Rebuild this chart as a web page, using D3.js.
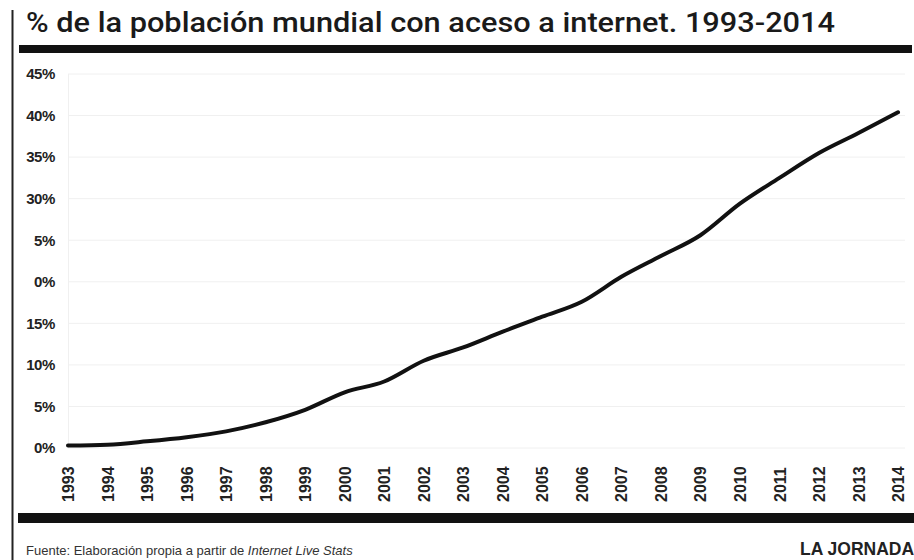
<!DOCTYPE html>
<html>
<head>
<meta charset="utf-8">
<script src="https://cdn.jsdelivr.net/npm/d3@7"></script>
<style>
  body { margin: 0; background: #fff; }
  svg { display: block; font-family: "Liberation Sans", Arial, sans-serif; }
  .grid line { stroke: #f0f0f0; stroke-width: 1; }
  .line { fill: none; stroke: #111; stroke-width: 4; stroke-linejoin: round; stroke-linecap: round; }
</style>
</head>
<body>
<div id="chart"></div>
<script>
// data: % of world population with internet access
var years = [1993, 1994, 1995, 1996, 1997, 1998, 1999, 2000, 2001, 2002, 2003,
             2004, 2005, 2006, 2007, 2008, 2009, 2010, 2011, 2012, 2013, 2014];
var pct = [0.3, 0.4, 0.8, 1.3, 2.0, 3.1, 4.6, 6.7, 8.0, 10.5, 12.1,
           14.0, 15.8, 17.6, 20.6, 23.1, 25.6, 29.4, 32.5, 35.5, 37.9, 40.4];
var yTicks = [0, 5, 10, 15, 20, 25, 30, 35, 40, 45];
// tick labels as printed in the original (with its typos)
var yTickLabels = ["0%", "5%", "10%", "15%", "0%", "5%", "30%", "35%", "40%", "45%"];

var width = 914, height = 560;

var svg = d3.select("#chart").append("svg")
    .attr("width", width)
    .attr("height", height);

var x = d3.scaleLinear().domain([1993, 2014]).range([68, 898]);
var y = d3.scaleLinear().domain([0, 45]).range([448, 74]);

// frame bits
svg.append("line")
    .attr("x1", 12.5).attr("x2", 12.5)
    .attr("y1", 10).attr("y2", height)
    .attr("stroke", "#222").attr("stroke-width", 2);

svg.append("rect")
    .attr("x", 19).attr("y", 45)
    .attr("width", 893).attr("height", 8)
    .attr("fill", "#111");

svg.append("rect")
    .attr("x", 18).attr("y", 513)
    .attr("width", 896).attr("height", 10)
    .attr("fill", "#111");

// title
svg.append("text")
    .attr("x", 26).attr("y", 32)
    .attr("textLength", 809)
    .attr("lengthAdjust", "spacingAndGlyphs")
    .style("font-family", "Roboto, 'Liberation Sans', sans-serif")
    .style("font-size", "27px")
    .style("font-weight", "500")
    .style("fill", "#1a1a1a")
    .text("% de la población mundial con aceso a internet. 1993-2014");

// gridlines
svg.append("g")
    .attr("class", "grid")
    .selectAll("line")
    .data(yTicks)
    .enter().append("line")
    .attr("x1", 68).attr("x2", 905)
    .attr("y1", function(d) { return y(d); })
    .attr("y2", function(d) { return y(d); });

svg.append("line")
    .attr("x1", 68.5).attr("x2", 68.5)
    .attr("y1", y(45)).attr("y2", y(0))
    .attr("stroke", "#f0f0f0");

// y axis labels
var yAxis = d3.axisLeft(y)
    .tickValues(yTicks)
    .tickSize(0)
    .tickPadding(0)
    .tickFormat(function(d, i) { return yTickLabels[i]; });

var yg = svg.append("g")
    .attr("transform", "translate(55,0)")
    .call(yAxis);
yg.select(".domain").remove();
yg.selectAll("text")
    .style("font-family", "'Liberation Sans', Arial, sans-serif")
    .style("font-size", "15px")
    .style("font-weight", "bold")
    .style("letter-spacing", "-0.4px")
    .style("fill", "#222");

// x axis labels (rotated years)
var xAxis = d3.axisBottom(x)
    .tickValues(years)
    .tickSize(0)
    .tickFormat(d3.format("d"));

var xg = svg.append("g")
    .attr("transform", "translate(0,460)")
    .call(xAxis);
xg.select(".domain").remove();
xg.selectAll("text")
    .attr("transform", "rotate(-90)")
    .attr("x", -42)
    .attr("y", 0)
    .attr("dy", "0.35em")
    .style("text-anchor", "start")
    .style("font-family", "'Liberation Sans', Arial, sans-serif")
    .style("font-size", "16px")
    .style("font-weight", "bold")
    .style("fill", "#222");

// the line
var line = d3.line()
    .x(function(d, i) { return x(years[i]); })
    .y(function(d) { return y(d); })
    .curve(d3.curveMonotoneX);

svg.append("path")
    .datum(pct)
    .attr("class", "line")
    .attr("d", line);

// footer
var foot = svg.append("text")
    .attr("x", 26).attr("y", 555)
    .style("font-size", "13px")
    .style("fill", "#333");
foot.append("tspan").text("Fuente: Elaboración propia a partir de ");
foot.append("tspan").style("font-style", "italic").text("Internet Live Stats");

svg.append("text")
    .attr("x", 800).attr("y", 555)
    .style("font-size", "17.5px")
    .style("font-weight", "bold")
    .style("fill", "#222")
    .text("LA JORNADA");
</script>
</body>
</html>
